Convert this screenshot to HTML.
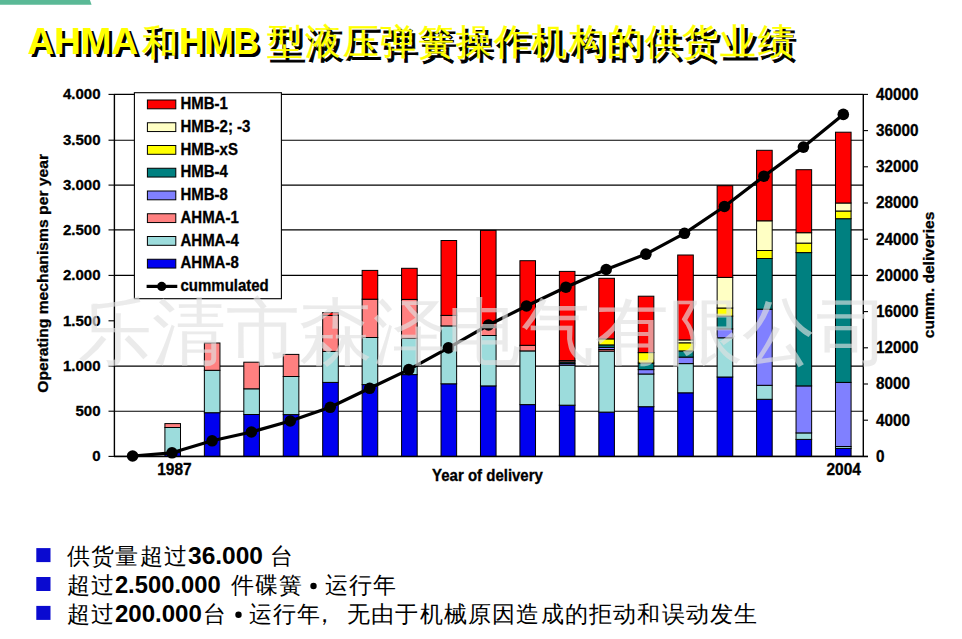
<!DOCTYPE html><html><head><meta charset="utf-8"><style>html,body{margin:0;padding:0;background:#fff;width:962px;height:639px;overflow:hidden}svg{display:block}text{font-family:"Liberation Sans",sans-serif}</style></head><body>
<svg width="962" height="639" viewBox="0 0 962 639">
<rect width="962" height="639" fill="#fff"/>
<polygon points="0,0 89.9,0 91.6,4.7 0,4.7" fill="#5ab996"/>
<g transform="translate(3,3.5)" fill="#000" font-weight="bold"><text x="27.6" y="53.5" font-size="36px" textLength="110.5" lengthAdjust="spacingAndGlyphs">AHMA</text><text x="141.5" y="54.5" font-size="36px" font-weight="400" stroke="#000" stroke-width="1.0">和</text><text x="179.2" y="53.8" font-size="36px" textLength="80" lengthAdjust="spacingAndGlyphs">HMB</text><text x="267" y="54" font-size="36px" font-weight="400" stroke="#000" stroke-width="1.0" textLength="527" lengthAdjust="spacing">型液压弹簧操作机构的供货业绩</text></g>
<g transform="translate(0,0)" fill="#ffff00" font-weight="bold"><text x="27.6" y="53.5" font-size="36px" textLength="110.5" lengthAdjust="spacingAndGlyphs">AHMA</text><text x="141.5" y="54.5" font-size="36px" font-weight="400" stroke="#ffff00" stroke-width="0.3">和</text><text x="179.2" y="53.8" font-size="36px" textLength="80" lengthAdjust="spacingAndGlyphs">HMB</text><text x="267" y="54" font-size="36px" font-weight="400" stroke="#ffff00" stroke-width="0.3" textLength="527" lengthAdjust="spacing">型液压弹簧操作机构的供货业绩</text></g>
<line x1="114.0" x2="863.0" y1="456.40" y2="456.40" stroke="#000" stroke-width="1.1"/>
<line x1="108.5" x2="114.0" y1="456.40" y2="456.40" stroke="#000" stroke-width="1.1"/>
<text transform="translate(100.50,461.40) scale(1,1.0)" font-size="15px" font-weight="bold" stroke="#000" stroke-width="0.3" text-anchor="end">0</text>
<line x1="114.0" x2="863.0" y1="411.20" y2="411.20" stroke="#000" stroke-width="1.1"/>
<line x1="108.5" x2="114.0" y1="411.20" y2="411.20" stroke="#000" stroke-width="1.1"/>
<text transform="translate(100.50,416.20) scale(1,1.0)" font-size="15px" font-weight="bold" stroke="#000" stroke-width="0.3" text-anchor="end">500</text>
<line x1="114.0" x2="863.0" y1="366.10" y2="366.10" stroke="#000" stroke-width="1.1"/>
<line x1="108.5" x2="114.0" y1="366.10" y2="366.10" stroke="#000" stroke-width="1.1"/>
<text transform="translate(100.50,371.10) scale(1,1.0)" font-size="15px" font-weight="bold" stroke="#000" stroke-width="0.3" text-anchor="end">1.000</text>
<line x1="108.5" x2="114.0" y1="320.80" y2="320.80" stroke="#000" stroke-width="1.1"/>
<text transform="translate(100.50,325.80) scale(1,1.0)" font-size="15px" font-weight="bold" stroke="#000" stroke-width="0.3" text-anchor="end">1.500</text>
<line x1="114.0" x2="863.0" y1="275.40" y2="275.40" stroke="#000" stroke-width="1.1"/>
<line x1="108.5" x2="114.0" y1="275.40" y2="275.40" stroke="#000" stroke-width="1.1"/>
<text transform="translate(100.50,280.40) scale(1,1.0)" font-size="15px" font-weight="bold" stroke="#000" stroke-width="0.3" text-anchor="end">2.000</text>
<line x1="114.0" x2="863.0" y1="229.90" y2="229.90" stroke="#000" stroke-width="1.1"/>
<line x1="108.5" x2="114.0" y1="229.90" y2="229.90" stroke="#000" stroke-width="1.1"/>
<text transform="translate(100.50,234.90) scale(1,1.0)" font-size="15px" font-weight="bold" stroke="#000" stroke-width="0.3" text-anchor="end">2.500</text>
<line x1="114.0" x2="863.0" y1="185.10" y2="185.10" stroke="#000" stroke-width="1.1"/>
<line x1="108.5" x2="114.0" y1="185.10" y2="185.10" stroke="#000" stroke-width="1.1"/>
<text transform="translate(100.50,190.10) scale(1,1.0)" font-size="15px" font-weight="bold" stroke="#000" stroke-width="0.3" text-anchor="end">3.000</text>
<line x1="114.0" x2="863.0" y1="140.20" y2="140.20" stroke="#000" stroke-width="1.1"/>
<line x1="108.5" x2="114.0" y1="140.20" y2="140.20" stroke="#000" stroke-width="1.1"/>
<text transform="translate(100.50,145.20) scale(1,1.0)" font-size="15px" font-weight="bold" stroke="#000" stroke-width="0.3" text-anchor="end">3.500</text>
<line x1="114.0" x2="863.0" y1="94.40" y2="94.40" stroke="#000" stroke-width="1.1"/>
<line x1="108.5" x2="114.0" y1="94.40" y2="94.40" stroke="#000" stroke-width="1.1"/>
<text transform="translate(100.50,99.40) scale(1,1.0)" font-size="15px" font-weight="bold" stroke="#000" stroke-width="0.3" text-anchor="end">4.000</text>
<line x1="863.0" x2="868" y1="456.40" y2="456.40" stroke="#000" stroke-width="1.1"/>
<text transform="translate(876.00,461.70) scale(1,1.04)" font-size="15.3px" font-weight="bold" stroke="#000" stroke-width="0.3">0</text>
<line x1="863.0" x2="868" y1="420.20" y2="420.20" stroke="#000" stroke-width="1.1"/>
<text transform="translate(876.00,425.50) scale(1,1.04)" font-size="15.3px" font-weight="bold" stroke="#000" stroke-width="0.3">4000</text>
<line x1="863.0" x2="868" y1="384.00" y2="384.00" stroke="#000" stroke-width="1.1"/>
<text transform="translate(876.00,389.30) scale(1,1.04)" font-size="15.3px" font-weight="bold" stroke="#000" stroke-width="0.3">8000</text>
<line x1="863.0" x2="868" y1="347.80" y2="347.80" stroke="#000" stroke-width="1.1"/>
<text transform="translate(876.00,353.10) scale(1,1.04)" font-size="15.3px" font-weight="bold" stroke="#000" stroke-width="0.3">12000</text>
<line x1="863.0" x2="868" y1="311.60" y2="311.60" stroke="#000" stroke-width="1.1"/>
<text transform="translate(876.00,316.90) scale(1,1.04)" font-size="15.3px" font-weight="bold" stroke="#000" stroke-width="0.3">16000</text>
<line x1="863.0" x2="868" y1="275.40" y2="275.40" stroke="#000" stroke-width="1.1"/>
<text transform="translate(876.00,280.70) scale(1,1.04)" font-size="15.3px" font-weight="bold" stroke="#000" stroke-width="0.3">20000</text>
<line x1="863.0" x2="868" y1="239.20" y2="239.20" stroke="#000" stroke-width="1.1"/>
<text transform="translate(876.00,244.50) scale(1,1.04)" font-size="15.3px" font-weight="bold" stroke="#000" stroke-width="0.3">24000</text>
<line x1="863.0" x2="868" y1="203.00" y2="203.00" stroke="#000" stroke-width="1.1"/>
<text transform="translate(876.00,208.30) scale(1,1.04)" font-size="15.3px" font-weight="bold" stroke="#000" stroke-width="0.3">28000</text>
<line x1="863.0" x2="868" y1="166.80" y2="166.80" stroke="#000" stroke-width="1.1"/>
<text transform="translate(876.00,172.10) scale(1,1.04)" font-size="15.3px" font-weight="bold" stroke="#000" stroke-width="0.3">32000</text>
<line x1="863.0" x2="868" y1="130.60" y2="130.60" stroke="#000" stroke-width="1.1"/>
<text transform="translate(876.00,135.90) scale(1,1.04)" font-size="15.3px" font-weight="bold" stroke="#000" stroke-width="0.3">36000</text>
<line x1="863.0" x2="868" y1="94.40" y2="94.40" stroke="#000" stroke-width="1.1"/>
<text transform="translate(876.00,99.70) scale(1,1.04)" font-size="15.3px" font-weight="bold" stroke="#000" stroke-width="0.3">40000</text>
<line x1="114.4" x2="114.4" y1="93.9" y2="456.9" stroke="#000" stroke-width="1.4"/>
<line x1="863.3" x2="863.3" y1="93.9" y2="456.9" stroke="#000" stroke-width="1.4"/>
<rect x="164.91" y="452.60" width="15.6" height="3.80" fill="#0000f0" stroke="#000" stroke-width="1.0"/>
<rect x="164.91" y="427.50" width="15.6" height="25.10" fill="#9cdcdc" stroke="#000" stroke-width="1.0"/>
<rect x="164.91" y="423.60" width="15.6" height="3.90" fill="#ff8080" stroke="#000" stroke-width="1.0"/>
<rect x="204.36" y="412.70" width="15.6" height="43.70" fill="#0000f0" stroke="#000" stroke-width="1.0"/>
<rect x="204.36" y="370.30" width="15.6" height="42.40" fill="#9cdcdc" stroke="#000" stroke-width="1.0"/>
<rect x="204.36" y="343.00" width="15.6" height="27.30" fill="#ff8080" stroke="#000" stroke-width="1.0"/>
<rect x="243.81" y="414.50" width="15.6" height="41.90" fill="#0000f0" stroke="#000" stroke-width="1.0"/>
<rect x="243.81" y="388.80" width="15.6" height="25.70" fill="#9cdcdc" stroke="#000" stroke-width="1.0"/>
<rect x="243.81" y="362.20" width="15.6" height="26.60" fill="#ff8080" stroke="#000" stroke-width="1.0"/>
<rect x="283.25" y="414.60" width="15.6" height="41.80" fill="#0000f0" stroke="#000" stroke-width="1.0"/>
<rect x="283.25" y="376.50" width="15.6" height="38.10" fill="#9cdcdc" stroke="#000" stroke-width="1.0"/>
<rect x="283.25" y="354.40" width="15.6" height="22.10" fill="#ff8080" stroke="#000" stroke-width="1.0"/>
<rect x="322.69" y="382.40" width="15.6" height="74.00" fill="#0000f0" stroke="#000" stroke-width="1.0"/>
<rect x="322.69" y="351.40" width="15.6" height="31.00" fill="#9cdcdc" stroke="#000" stroke-width="1.0"/>
<rect x="322.69" y="315.50" width="15.6" height="35.90" fill="#ff8080" stroke="#000" stroke-width="1.0"/>
<rect x="322.69" y="312.60" width="15.6" height="2.90" fill="#ff0000" stroke="#000" stroke-width="1.0"/>
<rect x="362.14" y="384.60" width="15.6" height="71.80" fill="#0000f0" stroke="#000" stroke-width="1.0"/>
<rect x="362.14" y="337.50" width="15.6" height="47.10" fill="#9cdcdc" stroke="#000" stroke-width="1.0"/>
<rect x="362.14" y="299.20" width="15.6" height="38.30" fill="#ff8080" stroke="#000" stroke-width="1.0"/>
<rect x="362.14" y="270.40" width="15.6" height="28.80" fill="#ff0000" stroke="#000" stroke-width="1.0"/>
<rect x="401.58" y="374.60" width="15.6" height="81.80" fill="#0000f0" stroke="#000" stroke-width="1.0"/>
<rect x="401.58" y="338.30" width="15.6" height="36.30" fill="#9cdcdc" stroke="#000" stroke-width="1.0"/>
<rect x="401.58" y="299.40" width="15.6" height="38.90" fill="#ff8080" stroke="#000" stroke-width="1.0"/>
<rect x="401.58" y="268.30" width="15.6" height="31.10" fill="#ff0000" stroke="#000" stroke-width="1.0"/>
<rect x="441.03" y="383.80" width="15.6" height="72.60" fill="#0000f0" stroke="#000" stroke-width="1.0"/>
<rect x="441.03" y="325.90" width="15.6" height="57.90" fill="#9cdcdc" stroke="#000" stroke-width="1.0"/>
<rect x="441.03" y="315.40" width="15.6" height="10.50" fill="#ff8080" stroke="#000" stroke-width="1.0"/>
<rect x="441.03" y="240.50" width="15.6" height="74.90" fill="#ff0000" stroke="#000" stroke-width="1.0"/>
<rect x="480.47" y="385.90" width="15.6" height="70.50" fill="#0000f0" stroke="#000" stroke-width="1.0"/>
<rect x="480.47" y="335.50" width="15.6" height="50.40" fill="#9cdcdc" stroke="#000" stroke-width="1.0"/>
<rect x="480.47" y="327.00" width="15.6" height="8.50" fill="#ff8080" stroke="#000" stroke-width="1.0"/>
<rect x="480.47" y="230.40" width="15.6" height="96.60" fill="#ff0000" stroke="#000" stroke-width="1.0"/>
<rect x="519.92" y="404.60" width="15.6" height="51.80" fill="#0000f0" stroke="#000" stroke-width="1.0"/>
<rect x="519.92" y="350.90" width="15.6" height="53.70" fill="#9cdcdc" stroke="#000" stroke-width="1.0"/>
<rect x="519.92" y="345.30" width="15.6" height="5.60" fill="#ff8080" stroke="#000" stroke-width="1.0"/>
<rect x="519.92" y="260.70" width="15.6" height="84.60" fill="#ff0000" stroke="#000" stroke-width="1.0"/>
<rect x="559.37" y="405.20" width="15.6" height="51.20" fill="#0000f0" stroke="#000" stroke-width="1.0"/>
<rect x="559.37" y="365.20" width="15.6" height="40.00" fill="#9cdcdc" stroke="#000" stroke-width="1.0"/>
<rect x="559.37" y="363.60" width="15.6" height="1.60" fill="#8080ff" stroke="#000" stroke-width="1.0"/>
<rect x="559.37" y="362.00" width="15.6" height="1.60" fill="#008080" stroke="#000" stroke-width="1.0"/>
<rect x="559.37" y="360.60" width="15.6" height="1.40" fill="#ff8080" stroke="#000" stroke-width="1.0"/>
<rect x="559.37" y="271.40" width="15.6" height="89.20" fill="#ff0000" stroke="#000" stroke-width="1.0"/>
<rect x="598.81" y="412.10" width="15.6" height="44.30" fill="#0000f0" stroke="#000" stroke-width="1.0"/>
<rect x="598.81" y="351.10" width="15.6" height="61.00" fill="#9cdcdc" stroke="#000" stroke-width="1.0"/>
<rect x="598.81" y="349.50" width="15.6" height="1.60" fill="#ff8080" stroke="#000" stroke-width="1.0"/>
<rect x="598.81" y="347.40" width="15.6" height="2.10" fill="#8080ff" stroke="#000" stroke-width="1.0"/>
<rect x="598.81" y="344.90" width="15.6" height="2.50" fill="#008080" stroke="#000" stroke-width="1.0"/>
<rect x="598.81" y="338.90" width="15.6" height="6.00" fill="#ffff00" stroke="#000" stroke-width="1.0"/>
<rect x="598.81" y="278.30" width="15.6" height="60.60" fill="#ff0000" stroke="#000" stroke-width="1.0"/>
<rect x="638.25" y="406.70" width="15.6" height="49.70" fill="#0000f0" stroke="#000" stroke-width="1.0"/>
<rect x="638.25" y="374.00" width="15.6" height="32.70" fill="#9cdcdc" stroke="#000" stroke-width="1.0"/>
<rect x="638.25" y="369.60" width="15.6" height="4.40" fill="#8080ff" stroke="#000" stroke-width="1.0"/>
<rect x="638.25" y="363.00" width="15.6" height="6.60" fill="#008080" stroke="#000" stroke-width="1.0"/>
<rect x="638.25" y="352.60" width="15.6" height="10.40" fill="#ffff00" stroke="#000" stroke-width="1.0"/>
<rect x="638.25" y="296.20" width="15.6" height="56.40" fill="#ff0000" stroke="#000" stroke-width="1.0"/>
<rect x="677.70" y="392.80" width="15.6" height="63.60" fill="#0000f0" stroke="#000" stroke-width="1.0"/>
<rect x="677.70" y="363.60" width="15.6" height="29.20" fill="#9cdcdc" stroke="#000" stroke-width="1.0"/>
<rect x="677.70" y="357.10" width="15.6" height="6.50" fill="#8080ff" stroke="#000" stroke-width="1.0"/>
<rect x="677.70" y="350.90" width="15.6" height="6.20" fill="#008080" stroke="#000" stroke-width="1.0"/>
<rect x="677.70" y="342.80" width="15.6" height="8.10" fill="#ffff00" stroke="#000" stroke-width="1.0"/>
<rect x="677.70" y="339.90" width="15.6" height="2.90" fill="#ffffc4" stroke="#000" stroke-width="1.0"/>
<rect x="677.70" y="255.00" width="15.6" height="84.90" fill="#ff0000" stroke="#000" stroke-width="1.0"/>
<rect x="717.14" y="377.00" width="15.6" height="79.40" fill="#0000f0" stroke="#000" stroke-width="1.0"/>
<rect x="717.14" y="337.80" width="15.6" height="39.20" fill="#9cdcdc" stroke="#000" stroke-width="1.0"/>
<rect x="717.14" y="328.90" width="15.6" height="8.90" fill="#8080ff" stroke="#000" stroke-width="1.0"/>
<rect x="717.14" y="316.10" width="15.6" height="12.80" fill="#008080" stroke="#000" stroke-width="1.0"/>
<rect x="717.14" y="308.00" width="15.6" height="8.10" fill="#ffff00" stroke="#000" stroke-width="1.0"/>
<rect x="717.14" y="277.40" width="15.6" height="30.60" fill="#ffffc4" stroke="#000" stroke-width="1.0"/>
<rect x="717.14" y="185.70" width="15.6" height="91.70" fill="#ff0000" stroke="#000" stroke-width="1.0"/>
<rect x="756.59" y="399.30" width="15.6" height="57.10" fill="#0000f0" stroke="#000" stroke-width="1.0"/>
<rect x="756.59" y="385.30" width="15.6" height="14.00" fill="#9cdcdc" stroke="#000" stroke-width="1.0"/>
<rect x="756.59" y="309.20" width="15.6" height="76.10" fill="#8080ff" stroke="#000" stroke-width="1.0"/>
<rect x="756.59" y="258.50" width="15.6" height="50.70" fill="#008080" stroke="#000" stroke-width="1.0"/>
<rect x="756.59" y="250.50" width="15.6" height="8.00" fill="#ffff00" stroke="#000" stroke-width="1.0"/>
<rect x="756.59" y="220.80" width="15.6" height="29.70" fill="#ffffc4" stroke="#000" stroke-width="1.0"/>
<rect x="756.59" y="150.30" width="15.6" height="70.50" fill="#ff0000" stroke="#000" stroke-width="1.0"/>
<rect x="796.04" y="439.40" width="15.6" height="17.00" fill="#0000f0" stroke="#000" stroke-width="1.0"/>
<rect x="796.04" y="432.90" width="15.6" height="6.50" fill="#9cdcdc" stroke="#000" stroke-width="1.0"/>
<rect x="796.04" y="385.90" width="15.6" height="47.00" fill="#8080ff" stroke="#000" stroke-width="1.0"/>
<rect x="796.04" y="252.60" width="15.6" height="133.30" fill="#008080" stroke="#000" stroke-width="1.0"/>
<rect x="796.04" y="243.10" width="15.6" height="9.50" fill="#ffff00" stroke="#000" stroke-width="1.0"/>
<rect x="796.04" y="232.70" width="15.6" height="10.40" fill="#ffffc4" stroke="#000" stroke-width="1.0"/>
<rect x="796.04" y="169.70" width="15.6" height="63.00" fill="#ff0000" stroke="#000" stroke-width="1.0"/>
<rect x="835.48" y="448.40" width="15.6" height="8.00" fill="#0000f0" stroke="#000" stroke-width="1.0"/>
<rect x="835.48" y="446.50" width="15.6" height="1.90" fill="#9cdcdc" stroke="#000" stroke-width="1.0"/>
<rect x="835.48" y="382.40" width="15.6" height="64.10" fill="#8080ff" stroke="#000" stroke-width="1.0"/>
<rect x="835.48" y="218.70" width="15.6" height="163.70" fill="#008080" stroke="#000" stroke-width="1.0"/>
<rect x="835.48" y="211.00" width="15.6" height="7.70" fill="#ffff00" stroke="#000" stroke-width="1.0"/>
<rect x="835.48" y="203.00" width="15.6" height="8.00" fill="#ffffc4" stroke="#000" stroke-width="1.0"/>
<rect x="835.48" y="132.20" width="15.6" height="70.80" fill="#ff0000" stroke="#000" stroke-width="1.0"/>
<line x1="114.0" x2="868" y1="456.4" y2="456.4" stroke="#000" stroke-width="1.5"/>
<polyline points="132.6,456.0 172.0,452.8 212.1,440.8 251.4,432.0 290.3,421.0 330.2,407.3 369.7,388.3 408.8,369.6 448.4,347.9 488.5,325.0 526.5,306.0 565.9,287.2 606.2,269.5 645.9,254.1 684.5,233.3 724.4,206.5 763.9,176.2 803.4,147.1 843.3,114.4" fill="none" stroke="#000" stroke-width="3.2" stroke-linejoin="round"/>
<circle cx="132.6" cy="456.0" r="5.8" fill="#000"/>
<circle cx="172.0" cy="452.8" r="5.8" fill="#000"/>
<circle cx="212.1" cy="440.8" r="5.8" fill="#000"/>
<circle cx="251.4" cy="432.0" r="5.8" fill="#000"/>
<circle cx="290.3" cy="421.0" r="5.8" fill="#000"/>
<circle cx="330.2" cy="407.3" r="5.8" fill="#000"/>
<circle cx="369.7" cy="388.3" r="5.8" fill="#000"/>
<circle cx="408.8" cy="369.6" r="5.8" fill="#000"/>
<circle cx="448.4" cy="347.9" r="5.8" fill="#000"/>
<circle cx="488.5" cy="325.0" r="5.8" fill="#000"/>
<circle cx="526.5" cy="306.0" r="5.8" fill="#000"/>
<circle cx="565.9" cy="287.2" r="5.8" fill="#000"/>
<circle cx="606.2" cy="269.5" r="5.8" fill="#000"/>
<circle cx="645.9" cy="254.1" r="5.8" fill="#000"/>
<circle cx="684.5" cy="233.3" r="5.8" fill="#000"/>
<circle cx="724.4" cy="206.5" r="5.8" fill="#000"/>
<circle cx="763.9" cy="176.2" r="5.8" fill="#000"/>
<circle cx="803.4" cy="147.1" r="5.8" fill="#000"/>
<circle cx="843.3" cy="114.4" r="5.8" fill="#000"/>
<rect x="134.4" y="92.7" width="147" height="206" fill="#fff" stroke="#000" stroke-width="1.1"/>
<rect x="147.4" y="100.00" width="28.4" height="8.8" fill="#ff0000" stroke="#000" stroke-width="1"/>
<text transform="translate(180.50,109.10) scale(1,1.1)" font-size="15px" font-weight="bold" stroke="#000" stroke-width="0.3">HMB-1</text>
<rect x="147.4" y="122.75" width="28.4" height="8.8" fill="#ffffc4" stroke="#000" stroke-width="1"/>
<text transform="translate(180.50,131.85) scale(1,1.1)" font-size="15px" font-weight="bold" stroke="#000" stroke-width="0.3">HMB-2; -3</text>
<rect x="147.4" y="145.50" width="28.4" height="8.8" fill="#ffff00" stroke="#000" stroke-width="1"/>
<text transform="translate(180.50,154.60) scale(1,1.1)" font-size="15px" font-weight="bold" stroke="#000" stroke-width="0.3">HMB-xS</text>
<rect x="147.4" y="168.25" width="28.4" height="8.8" fill="#008080" stroke="#000" stroke-width="1"/>
<text transform="translate(180.50,177.35) scale(1,1.1)" font-size="15px" font-weight="bold" stroke="#000" stroke-width="0.3">HMB-4</text>
<rect x="147.4" y="191.00" width="28.4" height="8.8" fill="#8080ff" stroke="#000" stroke-width="1"/>
<text transform="translate(180.50,200.10) scale(1,1.1)" font-size="15px" font-weight="bold" stroke="#000" stroke-width="0.3">HMB-8</text>
<rect x="147.4" y="213.75" width="28.4" height="8.8" fill="#ff8080" stroke="#000" stroke-width="1"/>
<text transform="translate(180.50,222.85) scale(1,1.1)" font-size="15px" font-weight="bold" stroke="#000" stroke-width="0.3">AHMA-1</text>
<rect x="147.4" y="236.50" width="28.4" height="8.8" fill="#9cdcdc" stroke="#000" stroke-width="1"/>
<text transform="translate(180.50,245.60) scale(1,1.1)" font-size="15px" font-weight="bold" stroke="#000" stroke-width="0.3">AHMA-4</text>
<rect x="147.4" y="259.25" width="28.4" height="8.8" fill="#0000f0" stroke="#000" stroke-width="1"/>
<text transform="translate(180.50,268.35) scale(1,1.1)" font-size="15px" font-weight="bold" stroke="#000" stroke-width="0.3">AHMA-8</text>
<line x1="146.6" x2="177.3" y1="286.40" y2="286.40" stroke="#000" stroke-width="3.2"/>
<circle cx="161.7" cy="286.40" r="4.6" fill="#000"/>
<text transform="translate(180.50,291.20) scale(1,1.1)" font-size="15px" font-weight="bold" stroke="#000" stroke-width="0.3">cummulated</text>
<text transform="translate(174.40,475.00) scale(1,1.1)" font-size="15.5px" font-weight="bold" stroke="#000" stroke-width="0.3" text-anchor="middle">1987</text>
<text transform="translate(843.70,475.00) scale(1,1.1)" font-size="15.5px" font-weight="bold" stroke="#000" stroke-width="0.3" text-anchor="middle">2004</text>
<text transform="translate(432.10,480.80) scale(1,1.1)" font-size="15px" font-weight="bold" stroke="#000" stroke-width="0.3">Year of delivery</text>
<text transform="translate(48.2,392.8) rotate(-90) scale(1.047,1.03)" font-size="15px" font-weight="bold" stroke="#000" stroke-width="0.3">Operating mechanisms per year</text>
<text transform="translate(933.8,338.2) rotate(-90) scale(1.04,1.03)" font-size="15px" font-weight="bold" stroke="#000" stroke-width="0.3">cumm. deliveries</text>
<text x="78" y="357" font-size="72.6px" fill="#e1e1e1" fill-opacity="0.65" textLength="812" lengthAdjust="spacingAndGlyphs">乐清市森泽电气有限公司</text>
<rect x="36.3" y="548.10" width="14.2" height="14" fill="#0a0ad0"/>
<rect x="36.3" y="577.00" width="14.2" height="14" fill="#0a0ad0"/>
<rect x="36.3" y="605.90" width="14.2" height="14" fill="#0a0ad0"/>
<text x="67" y="563.8" font-size="23px" letter-spacing="1.2">供货量超过</text>
<text x="188.0" y="563.8" font-size="24.4px" font-weight="bold" textLength="75.0" lengthAdjust="spacingAndGlyphs">36.000</text>
<text x="269.9" y="563.8" font-size="23px" letter-spacing="1.2">台</text>
<text x="66.5" y="592.8" font-size="23px" letter-spacing="1.2">超过</text>
<text x="114.9" y="592.8" font-size="24.4px" font-weight="bold" textLength="105.8" lengthAdjust="spacingAndGlyphs">2.500.000</text>
<text x="231" y="592.8" font-size="23px" letter-spacing="1.2">件碟簧</text>
<circle cx="313.5" cy="586" r="3.2" fill="#000"/>
<text x="324.5" y="592.8" font-size="23px" letter-spacing="1.2">运行年</text>
<text x="66.5" y="621.6" font-size="23px" letter-spacing="1.2">超过</text>
<text x="114.9" y="621.6" font-size="24.4px" font-weight="bold" textLength="87.0" lengthAdjust="spacingAndGlyphs">200.000</text>
<text x="203.1" y="621.6" font-size="23px" letter-spacing="1.2">台</text>
<circle cx="238.5" cy="614.8" r="3.2" fill="#000"/>
<text x="248.8" y="621.6" font-size="23px" letter-spacing="1.2">运行年</text>
<text x="312.7" y="621.6" font-size="23px" letter-spacing="1.2">，</text>
<text x="347" y="621.6" font-size="23px" letter-spacing="1.2">无由于机械原因造成的拒动和误动发生</text>
</svg>
</body></html>
